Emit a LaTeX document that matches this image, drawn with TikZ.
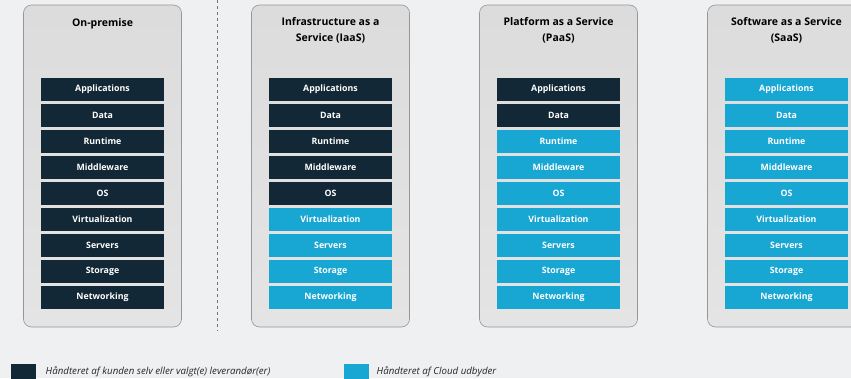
\documentclass[tikz,border=0pt]{standalone}
\usepackage{fontspec}
\setmainfont{Open Sans}
\usepackage{tikz}
\usetikzlibrary{positioning}
\definecolor{pagebg}{RGB}{238,240,242}
\definecolor{custdark}{RGB}{18,40,54}
\definecolor{cloudblue}{RGB}{24,166,210}
\definecolor{paneltop}{RGB}{220,220,220}
\definecolor{panelbot}{RGB}{229,228,229}
\definecolor{paneledge}{RGB}{150,150,150}
\tikzset{
  panel/.style={rectangle, draw=paneledge, top color=paneltop, bottom color=panelbot,
    rounded corners=8pt, minimum width=158pt, minimum height=322pt, line width=0.6pt},
  paneltitle/.style={font=\fontsize{10.5}{16}\selectfont\bfseries, align=center, text=black},
  layer/.style={rectangle, minimum width=123pt, minimum height=23pt, inner sep=0pt,
    font=\fontsize{8.8}{10}\selectfont\bfseries, text=white},
  kunde/.style={layer, fill=custdark},
  cloud/.style={layer, fill=cloudblue},
  legbox/.style={rectangle, minimum width=25pt, minimum height=17pt, inner sep=0pt},
  legtext/.style={font=\fontsize{9.7}{11}\selectfont\itshape, text=black!85},
  sepline/.style={dashed, thin, color=black!55}
}

\begin{document}
\begin{tikzpicture}[x=1pt, y=-1pt]
  % Page
  \fill[pagebg] (0,0) rectangle (851,378);
  \useasboundingbox (0,0) rectangle (851,378);

  % On-premise
  \begin{scope}[shift={(102.5,0)}]
    \node[panel] (onprem) at (0,166) {};
    \node[paneltitle, below=10pt of onprem.north] (onprem-t) {On-premise};
    \foreach \lbl [count=\i] in {Applications,Data,Runtime,Middleware,OS,Virtualization,Servers,Storage,Networking}
      \node[kunde] (onprem-\i) at (0,{63.5+26*\i}) {\lbl};
  \end{scope}

  % Separator
  \draw[sepline] (217,0) -- (217,331);

  % Infrastructure as a Service
  \begin{scope}[shift={(330.5,0)}]
    \node[panel] (iaas) at (0,166) {};
    \node[paneltitle, below=9pt of iaas.north] (iaas-t) {Infrastructure as a\\Service (IaaS)};
    \foreach \lbl [count=\i] in {Applications,Data,Runtime,Middleware,OS,Virtualization,Servers,Storage,Networking}{
      \ifnum\i>5 \def\kind{cloud}\else\def\kind{kunde}\fi
      \node[\kind] (iaas-\i) at (0,{63.5+26*\i}) {\lbl};
    }
  \end{scope}

  % Platform as a Service
  \begin{scope}[shift={(558.5,0)}]
    \node[panel] (paas) at (0,166) {};
    \node[paneltitle, below=9pt of paas.north] (paas-t) {Platform as a Service\\(PaaS)};
    \foreach \lbl [count=\i] in {Applications,Data,Runtime,Middleware,OS,Virtualization,Servers,Storage,Networking}{
      \ifnum\i>2 \def\kind{cloud}\else\def\kind{kunde}\fi
      \node[\kind] (paas-\i) at (0,{63.5+26*\i}) {\lbl};
    }
  \end{scope}

  % Software as a Service
  \begin{scope}[shift={(786.5,0)}]
    \node[panel] (saas) at (0,166) {};
    \node[paneltitle, below=9pt of saas.north] (saas-t) {Software as a Service\\(SaaS)};
    \foreach \lbl [count=\i] in {Applications,Data,Runtime,Middleware,OS,Virtualization,Servers,Storage,Networking}
      \node[cloud] (saas-\i) at (0,{63.5+26*\i}) {\lbl};
  \end{scope}

  % Legend
  \node[legbox, fill=custdark] (leg-kunde) at (23.5,372) {};
  \node[legtext, right=6pt of leg-kunde] (leg-kunde-t) {Håndteret af kunden selv eller valgt(e) leverandør(er)};
  \node[legbox, fill=cloudblue] (leg-cloud) at (356.5,372) {};
  \node[legtext, right=4pt of leg-cloud] (leg-cloud-t) {Håndteret af Cloud udbyder};
\end{tikzpicture}
\end{document}
